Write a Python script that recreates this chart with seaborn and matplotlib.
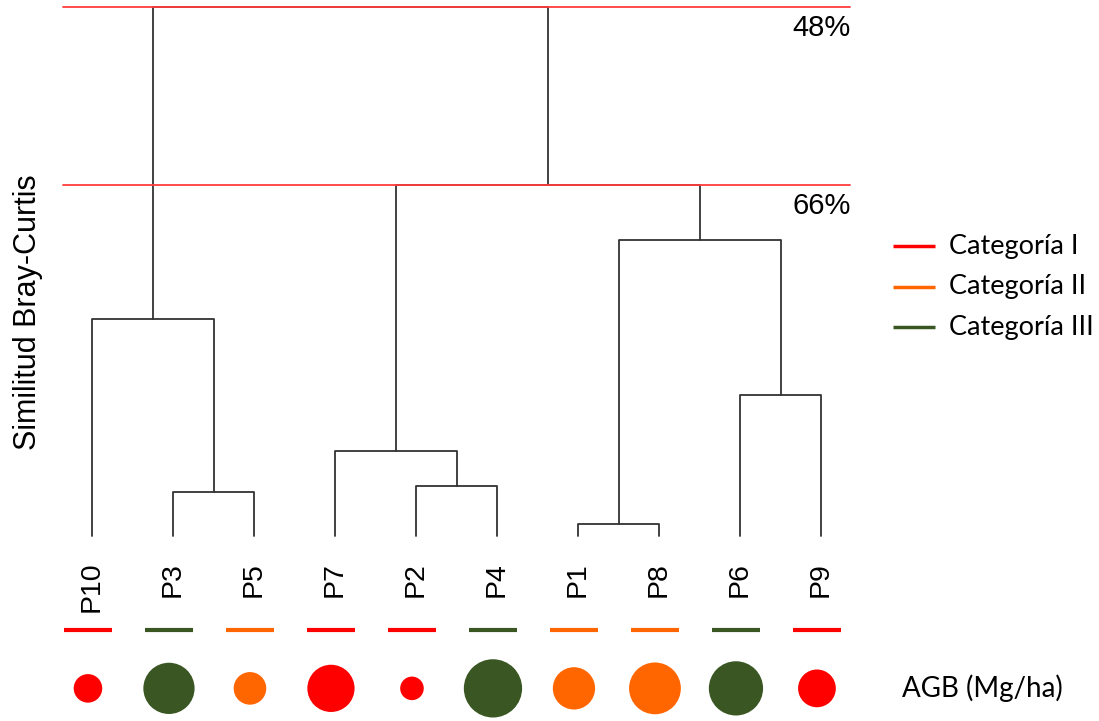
import pandas as pd
import matplotlib
matplotlib.use('Agg')
import matplotlib.pyplot as plt
import seaborn as sns

## DATA
# leaf order of the dendrogram
leaves = ['P10', 'P3', 'P5', 'P7', 'P2', 'P4', 'P1', 'P8', 'P6', 'P9']
# category of each plot (I, II, III)
category = ['I', 'III', 'II', 'I', 'I', 'III', 'II', 'II', 'III', 'I']
agb = [72, 232, 94, 197, 49, 300, 158, 237, 260, 126]

# merges: left node, right node, Bray-Curtis similarity (%)
merge_left = ['P3', 'P2', 'P1', 'P6', 'P10', 'P7', 'n2', 'n5', 'n4']
merge_right = ['P5', 'P4', 'P8', 'P9', 'n0', 'n1', 'n3', 'n6', 'n7']
merge_sim = [97.0, 96.4, 100.3, 87.2, 79.5, 92.9, 71.6, 66.0, 48.0]
leaf_sim = 101.5

cut_levels = [48, 66]
cut_labels = ['48%', '66%']

cat_names = ['I', 'II', 'III']
cat_labels = ['Categoría I', 'Categoría II', 'Categoría III']
cat_colors = {'I': '#FF0000', 'II': '#FF6600', 'III': '#3A5723'}

## BUILD DENDROGRAM SEGMENTS
pos = {name: (i, leaf_sim) for i, name in enumerate(leaves)}
rows = []
for k, (a, b, h) in enumerate(zip(merge_left, merge_right, merge_sim)):
    xa, ya = pos[a]
    xb, yb = pos[b]
    for px, py in [(xa, ya), (xa, h), (xb, h), (xb, yb)]:
        rows.append({'seg': k, 'x': px, 'y': py})
    pos['n%d' % k] = ((xa + xb) / 2, h)
seg_df = pd.DataFrame(rows)

leaf_df = pd.DataFrame({'leaf': leaves, 'x': range(len(leaves)),
                        'cat': category, 'agb': agb})

## PLOT
sns.set_style('white')
plt.rcParams['font.family'] = ['Liberation Sans', 'DejaVu Sans']

fig = plt.figure(figsize=(10.99, 7.21), dpi=100)
ax = fig.add_axes([0, 0, 1, 1])
ax.set_xlim(-1.136, 12.432)
ax.set_ylim(120.2, 47.29)
ax.axis('off')

# dendrogram
sns.lineplot(data=seg_df, x='x', y='y', units='seg', estimator=None, sort=False,
             color='#333333', lw=1.3, ax=ax, zorder=2)

# similarity cut lines (drawn over the dendrogram)
for lev, lab in zip(cut_levels, cut_labels):
    ax.plot([-0.36, 9.36], [lev, lev], color='#FF3B3B', lw=1.3, zorder=4)
    ax.text(9.37, lev + 2.1, lab, ha='right', va='center', fontsize=21, color='black')

# leaf labels
for i, name in enumerate(leaves):
    ax.text(i, 104.1, name, rotation=90, ha='center', va='top', fontsize=20.5, color='black')

# category bars under each leaf
for i, c in enumerate(category):
    ax.plot([i - 0.35, i + 0.25], [111.0, 111.0], color=cat_colors[c], lw=3, solid_capstyle='butt')

# AGB circles
sns.scatterplot(data=leaf_df.assign(xs=leaf_df['x'] - 0.05, ys=116.9), x='xs', y='ys',
                hue='cat', palette=cat_colors, size='agb', sizes=(0, 1760),
                size_norm=(0, 300), legend=False, linewidth=0, ax=ax, zorder=3)
ax.set_xlabel('')
ax.set_ylabel('')

ax.text(10.0, 116.9, 'AGB (Mg/ha)', ha='left', va='center', fontsize=20,
        family=['Lato', 'DejaVu Sans'], color='black')

# legend for categories
for j, (cn, cl) in enumerate(zip(cat_names, cat_labels)):
    yy = 72.2 + j * 4.1
    ax.plot([9.89, 10.41], [yy, yy], color=cat_colors[cn], lw=2.5, solid_capstyle='butt')
    ax.text(10.58, yy, cl, ha='left', va='center', fontsize=19.5,
            family=['Lato', 'DejaVu Sans'], color='black')

fig.text(28 / 1099, 1 - 312 / 721, 'Similitud Bray-Curtis', rotation=90,
         ha='center', va='center', fontsize=22, color='black')

fig.savefig('out.png', dpi=100)
